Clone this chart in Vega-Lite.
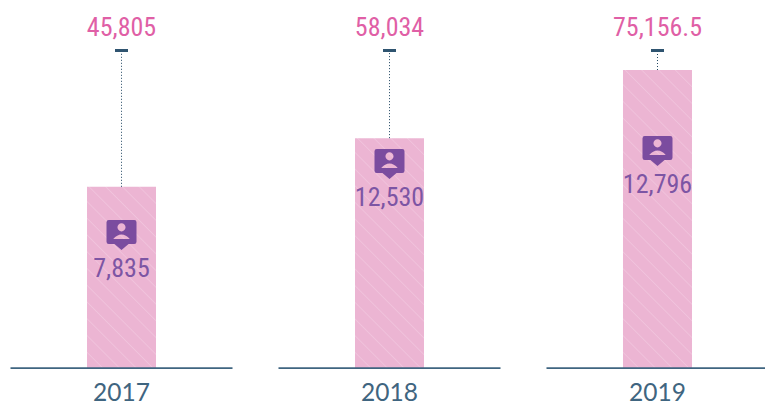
{"$schema":"https://vega.github.io/schema/vega-lite/v6.json","width":758,"height":369,"padding":{"left":10.5,"top":0,"right":0,"bottom":0},"background":"#ffffff","config":{"view":{"stroke":null}},
"data":{"values":[{"year":"2017","total":45805,"total_label":"45,805","inner":"7,835","inner_level":25390},{"year":"2018","total":58034,"total_label":"58,034","inner":"12,530","inner_level":43240},{"year":"2019","total":75156.5,"total_label":"75,156.5","inner":"12,796","inner_level":46510}]},
"encoding":{"x":{"field":"year","type":"nominal","title":null,"scale":{"paddingInner":0.1716,"paddingOuter":0},"axis":{"domain":false,"ticks":false,"labelAngle":0,"labelFont":"Lato","labelFontSize":24.5,"labelColor":"#3f6580","labelPadding":12}},"y":{"type":"quantitative","title":null,"scale":{"domain":[0,92760],"nice":false},"axis":null}},
"layer":[
{"transform":[{"filter":"datum.year=='2017'"}],"mark":{"type":"bar","width":{"band":0.3108},"fill":{"gradient":"linear","x1":0,"y1":1,"x2":0.4571,"y2":-0.2058,"stops":[{"offset":0,"color":"#ecb5d3"},{"offset":0.0617,"color":"#ecb5d3"},{"offset":0.0667,"color":"#f0c3dc"},{"offset":0.0717,"color":"#ecb5d3"},{"offset":0.1283,"color":"#ecb5d3"},{"offset":0.1333,"color":"#f0c3dc"},{"offset":0.1383,"color":"#ecb5d3"},{"offset":0.195,"color":"#ecb5d3"},{"offset":0.2,"color":"#f0c3dc"},{"offset":0.205,"color":"#ecb5d3"},{"offset":0.2617,"color":"#ecb5d3"},{"offset":0.2667,"color":"#f0c3dc"},{"offset":0.2717,"color":"#ecb5d3"},{"offset":0.3283,"color":"#ecb5d3"},{"offset":0.3333,"color":"#f0c3dc"},{"offset":0.3383,"color":"#ecb5d3"},{"offset":0.395,"color":"#ecb5d3"},{"offset":0.4,"color":"#f0c3dc"},{"offset":0.405,"color":"#ecb5d3"},{"offset":0.4617,"color":"#ecb5d3"},{"offset":0.4667,"color":"#f0c3dc"},{"offset":0.4717,"color":"#ecb5d3"},{"offset":0.5283,"color":"#ecb5d3"},{"offset":0.5333,"color":"#f0c3dc"},{"offset":0.5383,"color":"#ecb5d3"},{"offset":0.595,"color":"#ecb5d3"},{"offset":0.6,"color":"#f0c3dc"},{"offset":0.605,"color":"#ecb5d3"},{"offset":0.6617,"color":"#ecb5d3"},{"offset":0.6667,"color":"#f0c3dc"},{"offset":0.6717,"color":"#ecb5d3"},{"offset":0.7283,"color":"#ecb5d3"},{"offset":0.7333,"color":"#f0c3dc"},{"offset":0.7383,"color":"#ecb5d3"},{"offset":0.795,"color":"#ecb5d3"},{"offset":0.8,"color":"#f0c3dc"},{"offset":0.805,"color":"#ecb5d3"},{"offset":0.8617,"color":"#ecb5d3"},{"offset":0.8667,"color":"#f0c3dc"},{"offset":0.8717,"color":"#ecb5d3"},{"offset":0.9283,"color":"#ecb5d3"},{"offset":0.9333,"color":"#f0c3dc"},{"offset":0.9383,"color":"#ecb5d3"},{"offset":1,"color":"#ecb5d3"}]}},"encoding":{"y":{"field":"total"}}},
{"transform":[{"filter":"datum.year=='2018'"}],"mark":{"type":"bar","width":{"band":0.3108},"fill":{"gradient":"linear","x1":0,"y1":1,"x2":0.3562,"y2":-0.1923,"stops":[{"offset":0,"color":"#ecb5d3"},{"offset":0.0516,"color":"#ecb5d3"},{"offset":0.0556,"color":"#f0c3dc"},{"offset":0.0596,"color":"#ecb5d3"},{"offset":0.1071,"color":"#ecb5d3"},{"offset":0.1111,"color":"#f0c3dc"},{"offset":0.1151,"color":"#ecb5d3"},{"offset":0.1627,"color":"#ecb5d3"},{"offset":0.1667,"color":"#f0c3dc"},{"offset":0.1707,"color":"#ecb5d3"},{"offset":0.2182,"color":"#ecb5d3"},{"offset":0.2222,"color":"#f0c3dc"},{"offset":0.2262,"color":"#ecb5d3"},{"offset":0.2738,"color":"#ecb5d3"},{"offset":0.2778,"color":"#f0c3dc"},{"offset":0.2818,"color":"#ecb5d3"},{"offset":0.3293,"color":"#ecb5d3"},{"offset":0.3333,"color":"#f0c3dc"},{"offset":0.3373,"color":"#ecb5d3"},{"offset":0.3849,"color":"#ecb5d3"},{"offset":0.3889,"color":"#f0c3dc"},{"offset":0.3929,"color":"#ecb5d3"},{"offset":0.4404,"color":"#ecb5d3"},{"offset":0.4444,"color":"#f0c3dc"},{"offset":0.4484,"color":"#ecb5d3"},{"offset":0.496,"color":"#ecb5d3"},{"offset":0.5,"color":"#f0c3dc"},{"offset":0.504,"color":"#ecb5d3"},{"offset":0.5516,"color":"#ecb5d3"},{"offset":0.5556,"color":"#f0c3dc"},{"offset":0.5596,"color":"#ecb5d3"},{"offset":0.6071,"color":"#ecb5d3"},{"offset":0.6111,"color":"#f0c3dc"},{"offset":0.6151,"color":"#ecb5d3"},{"offset":0.6627,"color":"#ecb5d3"},{"offset":0.6667,"color":"#f0c3dc"},{"offset":0.6707,"color":"#ecb5d3"},{"offset":0.7182,"color":"#ecb5d3"},{"offset":0.7222,"color":"#f0c3dc"},{"offset":0.7262,"color":"#ecb5d3"},{"offset":0.7738,"color":"#ecb5d3"},{"offset":0.7778,"color":"#f0c3dc"},{"offset":0.7818,"color":"#ecb5d3"},{"offset":0.8293,"color":"#ecb5d3"},{"offset":0.8333,"color":"#f0c3dc"},{"offset":0.8373,"color":"#ecb5d3"},{"offset":0.8849,"color":"#ecb5d3"},{"offset":0.8889,"color":"#f0c3dc"},{"offset":0.8929,"color":"#ecb5d3"},{"offset":0.9404,"color":"#ecb5d3"},{"offset":0.9444,"color":"#f0c3dc"},{"offset":0.9484,"color":"#ecb5d3"},{"offset":1,"color":"#ecb5d3"}]}},"encoding":{"y":{"field":"total"}}},
{"transform":[{"filter":"datum.year=='2019'"}],"mark":{"type":"bar","width":{"band":0.3108},"fill":{"gradient":"linear","x1":0,"y1":1,"x2":0.2697,"y2":-0.1685,"stops":[{"offset":0,"color":"#ecb5d3"},{"offset":0.0422,"color":"#ecb5d3"},{"offset":0.0455,"color":"#f0c3dc"},{"offset":0.0488,"color":"#ecb5d3"},{"offset":0.0876,"color":"#ecb5d3"},{"offset":0.0909,"color":"#f0c3dc"},{"offset":0.0942,"color":"#ecb5d3"},{"offset":0.1331,"color":"#ecb5d3"},{"offset":0.1364,"color":"#f0c3dc"},{"offset":0.1397,"color":"#ecb5d3"},{"offset":0.1785,"color":"#ecb5d3"},{"offset":0.1818,"color":"#f0c3dc"},{"offset":0.1851,"color":"#ecb5d3"},{"offset":0.224,"color":"#ecb5d3"},{"offset":0.2273,"color":"#f0c3dc"},{"offset":0.2306,"color":"#ecb5d3"},{"offset":0.2694,"color":"#ecb5d3"},{"offset":0.2727,"color":"#f0c3dc"},{"offset":0.276,"color":"#ecb5d3"},{"offset":0.3149,"color":"#ecb5d3"},{"offset":0.3182,"color":"#f0c3dc"},{"offset":0.3215,"color":"#ecb5d3"},{"offset":0.3603,"color":"#ecb5d3"},{"offset":0.3636,"color":"#f0c3dc"},{"offset":0.3669,"color":"#ecb5d3"},{"offset":0.4058,"color":"#ecb5d3"},{"offset":0.4091,"color":"#f0c3dc"},{"offset":0.4124,"color":"#ecb5d3"},{"offset":0.4512,"color":"#ecb5d3"},{"offset":0.4545,"color":"#f0c3dc"},{"offset":0.4578,"color":"#ecb5d3"},{"offset":0.4967,"color":"#ecb5d3"},{"offset":0.5,"color":"#f0c3dc"},{"offset":0.5033,"color":"#ecb5d3"},{"offset":0.5422,"color":"#ecb5d3"},{"offset":0.5455,"color":"#f0c3dc"},{"offset":0.5488,"color":"#ecb5d3"},{"offset":0.5876,"color":"#ecb5d3"},{"offset":0.5909,"color":"#f0c3dc"},{"offset":0.5942,"color":"#ecb5d3"},{"offset":0.6331,"color":"#ecb5d3"},{"offset":0.6364,"color":"#f0c3dc"},{"offset":0.6397,"color":"#ecb5d3"},{"offset":0.6785,"color":"#ecb5d3"},{"offset":0.6818,"color":"#f0c3dc"},{"offset":0.6851,"color":"#ecb5d3"},{"offset":0.724,"color":"#ecb5d3"},{"offset":0.7273,"color":"#f0c3dc"},{"offset":0.7306,"color":"#ecb5d3"},{"offset":0.7694,"color":"#ecb5d3"},{"offset":0.7727,"color":"#f0c3dc"},{"offset":0.776,"color":"#ecb5d3"},{"offset":0.8149,"color":"#ecb5d3"},{"offset":0.8182,"color":"#f0c3dc"},{"offset":0.8215,"color":"#ecb5d3"},{"offset":0.8603,"color":"#ecb5d3"},{"offset":0.8636,"color":"#f0c3dc"},{"offset":0.8669,"color":"#ecb5d3"},{"offset":0.9058,"color":"#ecb5d3"},{"offset":0.9091,"color":"#f0c3dc"},{"offset":0.9124,"color":"#ecb5d3"},{"offset":0.9512,"color":"#ecb5d3"},{"offset":0.9545,"color":"#f0c3dc"},{"offset":0.9578,"color":"#ecb5d3"},{"offset":1,"color":"#ecb5d3"}]}},"encoding":{"y":{"field":"total"}}},
{"mark":{"type":"bar","width":{"band":1},"fill":"#3f6580"},"encoding":{"y":{"datum":0},"y2":{"datum":450}}},
{"mark":{"type":"rule","stroke":"#1f4560","strokeWidth":1,"strokeDash":[1,2]},"encoding":{"y":{"field":"total"},"y2":{"datum":80060}}},
{"mark":{"type":"tick","color":"#2f5470","size":13,"thickness":3,"opacity":1},"encoding":{"y":{"datum":80060}}},
{"mark":{"type":"text","font":"Roboto Condensed, DejaVu Sans Condensed, Roboto","fontSize":26,"color":"#e05fa6","baseline":"middle"},"encoding":{"y":{"datum":85720},"text":{"field":"total_label"}}},
{"mark":{"type":"text","font":"Roboto Condensed, DejaVu Sans Condensed, Roboto","fontSize":26,"color":"#7d55a4","baseline":"middle","dy":1},"encoding":{"y":{"field":"inner_level"},"text":{"field":"inner"}}},
{"mark":{"type":"point","filled":true,"size":900,"opacity":1,"strokeWidth":0,"color":"#7b4c9f","shape":"M-.85 -.8 L.85 -.8 Q1 -.8 1 -.65 L1 .65 Q1 .8 .85 .8 L.47 .8 L0 1.2 L-.47 .8 L-.85 .8 Q-1 .8 -1 .65 L-1 -.65 Q-1 -.8 -.85 -.8 Z M0 -.58 A.27 .27 0 0 0 0 -.04 A.27 .27 0 0 0 0 -.58 Z M-.55 .47 L.55 .47 Q.3 .17 0 .17 Q-.3 .17 -.55 .47 Z"},"encoding":{"y":{"field":"inner_level"},"yOffset":{"value":-36}}}
]}
